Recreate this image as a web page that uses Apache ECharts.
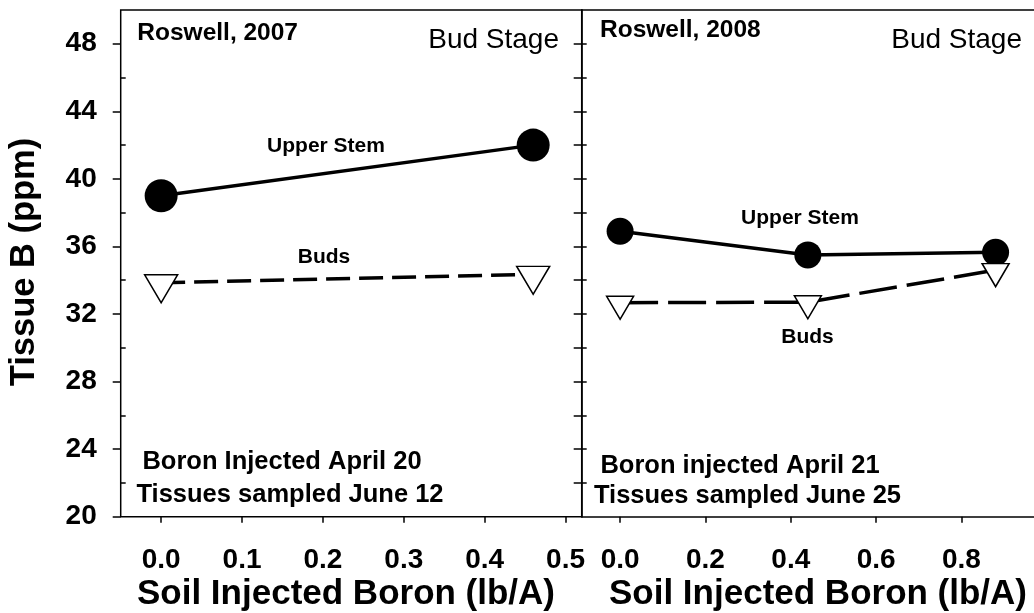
<!DOCTYPE html>
<html>
<head>
<meta charset="utf-8">
<script src="https://cdn.jsdelivr.net/npm/echarts@6/dist/echarts.min.js"></script>
<style>
  html, body { margin: 0; padding: 0; background: #fff; }
  #chart { width: 1034px; height: 613px; }
</style>
</head>
<body>
<div id="chart"></div>
<script>
// ---- Data ----
const x2007 = [0, 0.46];
const upperStem2007 = [39.0, 42.0];
const buds2007 = [33.85, 34.35];

const x2008 = [0, 0.44, 0.88];
const upperStem2008 = [36.9, 35.5, 35.65];
const buds2008 = [32.67, 32.7, 34.6];

const yMajorTicks = [20, 24, 28, 32, 36, 40, 44, 48];
const yMinorTicks = [22, 26, 30, 34, 38, 42, 46];
const yAllTicks = [22, 24, 26, 28, 30, 32, 34, 36, 38, 40, 42, 44, 46, 48];
const xTicks2007 = [0, 0.1, 0.2, 0.3, 0.4, 0.5];
const xTicks2008 = [0, 0.2, 0.4, 0.6, 0.8];

const FONT = "'Liberation Sans', Arial, Helvetica, sans-serif";
const pairs = (xs, ys) => xs.map((x, i) => [x, ys[i]]);
const downTri = 'path://M0,0L10,0L5,10Z';

const chart = echarts.init(document.getElementById('chart'), null, { renderer: 'canvas' });

const LINE = { color: '#000', width: 1.5 };
const yBase = { type: 'value', min: 20, max: 50, splitLine: { show: false } };

const option = {
  animation: false,
  backgroundColor: '#fff',
  grid: [
    { left: 120.7, top: 10, width: 461, height: 506.7, show: true, borderColor: '#000', borderWidth: 1.5, backgroundColor: 'transparent' },
    { left: 581.7, top: 10, right: 0, height: 506.7, show: false }
  ],
  xAxis: [
    {
      type: 'value', gridIndex: 0, min: -0.05, max: 0.52,
      axisLine: { show: false, onZero: false }, splitLine: { show: false },
      axisTick: { show: true, customValues: xTicks2007, length: 6, lineStyle: LINE },
      axisLabel: { customValues: xTicks2007, formatter: v => v.toFixed(1), margin: 30,
        color: '#000', fontFamily: FONT, fontWeight: 'bold', fontSize: 28 }
    },
    {
      type: 'value', gridIndex: 1, min: -0.09, max: 0.97, position: 'bottom',
      axisLine: { show: true, onZero: false, lineStyle: LINE }, splitLine: { show: false },
      axisTick: { show: true, customValues: xTicks2008, length: 6, lineStyle: LINE },
      axisLabel: { customValues: xTicks2008, formatter: v => v.toFixed(1), margin: 30,
        color: '#000', fontFamily: FONT, fontWeight: 'bold', fontSize: 28 }
    },
    {
      type: 'value', gridIndex: 1, min: -0.09, max: 0.97, position: 'top',
      axisLine: { show: true, onZero: false, lineStyle: LINE }, splitLine: { show: false },
      axisTick: { show: false }, axisLabel: { show: false }
    }
  ],
  yAxis: [
    Object.assign({}, yBase, {
      gridIndex: 0, position: 'left',
      axisLine: { show: false, onZero: false },
      axisTick: { show: true, customValues: yMajorTicks, length: 8, lineStyle: LINE },
      axisLabel: { customValues: yMajorTicks, margin: 24, color: '#000', fontFamily: FONT, fontWeight: 'bold', fontSize: 28 }
    }),
    Object.assign({}, yBase, {
      gridIndex: 0, position: 'left',
      axisLine: { show: false, onZero: false },
      axisTick: { show: true, inside: true, customValues: yMinorTicks, length: 5, lineStyle: LINE },
      axisLabel: { show: false }
    }),
    Object.assign({}, yBase, {
      gridIndex: 0, position: 'right',
      axisLine: { show: false, onZero: false },
      axisTick: { show: true, inside: true, customValues: yAllTicks, length: 8, lineStyle: LINE },
      axisLabel: { show: false }
    }),
    Object.assign({}, yBase, {
      gridIndex: 1, position: 'left',
      axisLine: { show: true, onZero: false, lineStyle: LINE },
      axisTick: { show: true, inside: true, customValues: yAllTicks, length: 5, lineStyle: LINE },
      axisLabel: { show: false }
    })
  ],
  series: [
    {
      name: 'Upper Stem 2007', type: 'line', xAxisIndex: 0, yAxisIndex: 0,
      data: pairs(x2007, upperStem2007),
      symbol: 'circle', symbolSize: 33,
      itemStyle: { color: '#000' },
      lineStyle: { color: '#000', width: 3.5 }
    },
    {
      name: 'Buds 2007', type: 'line', xAxisIndex: 0, yAxisIndex: 0,
      data: pairs(x2007, buds2007),
      symbol: downTri, symbolSize: [33, 28], symbolOffset: [0, 6], symbolKeepAspect: false,
      itemStyle: { color: '#fff', borderColor: '#000', borderWidth: 1.5 },
      lineStyle: { color: '#000', width: 3.5, type: [24, 9] }
    },
    {
      name: 'Upper Stem 2008', type: 'line', xAxisIndex: 1, yAxisIndex: 3,
      data: pairs(x2008, upperStem2008),
      symbol: 'circle', symbolSize: 27,
      itemStyle: { color: '#000' },
      lineStyle: { color: '#000', width: 3.5 }
    },
    {
      name: 'Buds 2008', type: 'line', xAxisIndex: 1, yAxisIndex: 3,
      data: pairs(x2008, buds2008),
      symbol: downTri, symbolSize: [27, 23], symbolOffset: [0, 5], symbolKeepAspect: false,
      itemStyle: { color: '#fff', borderColor: '#000', borderWidth: 1.5 },
      lineStyle: { color: '#000', width: 3.5, type: [38, 10] }
    }
  ],
  graphic: [
    { type: 'text', x: 24.5, y: 262, rotation: Math.PI / 2,
      style: { text: 'Tissue B (ppm)', font: `bold 34.5px ${FONT}`, fill: '#000', align: 'center', verticalAlign: 'middle' } },
    { type: 'text', x: 346, y: 594.5,
      style: { text: 'Soil Injected Boron (lb/A)', font: `bold 35px ${FONT}`, fill: '#000', align: 'center', verticalAlign: 'middle' } },
    { type: 'text', x: 818, y: 594.5,
      style: { text: 'Soil Injected Boron (lb/A)', font: `bold 35px ${FONT}`, fill: '#000', align: 'center', verticalAlign: 'middle' } },
    { type: 'text', x: 137.3, y: 33,
      style: { text: 'Roswell, 2007', font: `bold 24.5px ${FONT}`, fill: '#000', align: 'left', verticalAlign: 'middle' } },
    { type: 'text', x: 600, y: 30,
      style: { text: 'Roswell, 2008', font: `bold 24.5px ${FONT}`, fill: '#000', align: 'left', verticalAlign: 'middle' } },
    { type: 'text', x: 559, y: 40,
      style: { text: 'Bud Stage', font: `28px ${FONT}`, fill: '#000', align: 'right', verticalAlign: 'middle' } },
    { type: 'text', x: 1022, y: 40,
      style: { text: 'Bud Stage', font: `28px ${FONT}`, fill: '#000', align: 'right', verticalAlign: 'middle' } },
    { type: 'text', x: 326, y: 146,
      style: { text: 'Upper Stem', font: `bold 21px ${FONT}`, fill: '#000', align: 'center', verticalAlign: 'middle' } },
    { type: 'text', x: 324, y: 257,
      style: { text: 'Buds', font: `bold 21px ${FONT}`, fill: '#000', align: 'center', verticalAlign: 'middle' } },
    { type: 'text', x: 800, y: 218,
      style: { text: 'Upper Stem', font: `bold 21px ${FONT}`, fill: '#000', align: 'center', verticalAlign: 'middle' } },
    { type: 'text', x: 807.5, y: 337,
      style: { text: 'Buds', font: `bold 21px ${FONT}`, fill: '#000', align: 'center', verticalAlign: 'middle' } },
    { type: 'text', x: 282, y: 462,
      style: { text: 'Boron Injected April 20', font: `bold 25.5px ${FONT}`, fill: '#000', align: 'center', verticalAlign: 'middle' } },
    { type: 'text', x: 290, y: 495,
      style: { text: 'Tissues sampled June 12', font: `bold 25.5px ${FONT}`, fill: '#000', align: 'center', verticalAlign: 'middle' } },
    { type: 'text', x: 740, y: 466,
      style: { text: 'Boron injected April 21', font: `bold 25.5px ${FONT}`, fill: '#000', align: 'center', verticalAlign: 'middle' } },
    { type: 'text', x: 747.5, y: 495.5,
      style: { text: 'Tissues sampled June 25', font: `bold 25.5px ${FONT}`, fill: '#000', align: 'center', verticalAlign: 'middle' } }
  ]
};

chart.setOption(option);
</script>
</body>
</html>
